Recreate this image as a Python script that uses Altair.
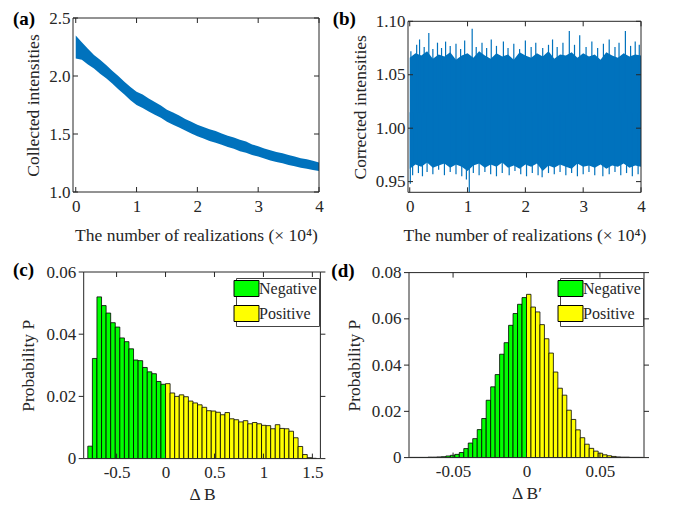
import altair as alt
import pandas as pd

FONT = "Liberation Serif"
TXT = "#262626"
BLUE = "#0072BD"
GREEN = "#00FF00"
YELLOW = "#FFFF00"

# ---------------- (a) collected intensities (envelope of the noisy trace, x in 1e4) ----
a_pos = [0.0, 0.1, 0.2, 0.3, 0.4, 0.5, 0.6, 0.7, 0.8, 0.9, 1.0, 1.1, 1.2, 1.3, 1.4,
         1.5, 1.6, 1.7, 1.8, 1.9, 2.0, 2.1, 2.2, 2.3, 2.4, 2.5, 2.6, 2.7, 2.8, 2.9,
         3.0, 3.1, 3.2, 3.3, 3.4, 3.5, 3.6, 3.7, 3.8, 3.9, 4.0]
a_hi = [2.35, 2.29, 2.235, 2.18, 2.14, 2.095, 2.045, 2.00, 1.95, 1.905, 1.865, 1.84,
        1.805, 1.775, 1.745, 1.71, 1.685, 1.66, 1.63, 1.605, 1.58, 1.56, 1.54, 1.525,
        1.505, 1.485, 1.47, 1.45, 1.435, 1.41, 1.395, 1.375, 1.36, 1.345, 1.335, 1.32,
        1.305, 1.292, 1.282, 1.27, 1.255]
a_lo = [2.15, 2.14, 2.10, 2.065, 2.02, 1.98, 1.935, 1.885, 1.84, 1.79, 1.75, 1.725,
        1.695, 1.665, 1.64, 1.605, 1.58, 1.555, 1.53, 1.505, 1.48, 1.462, 1.44, 1.425,
        1.408, 1.388, 1.372, 1.352, 1.338, 1.32, 1.305, 1.288, 1.272, 1.258, 1.248,
        1.233, 1.222, 1.21, 1.2, 1.19, 1.18]

# ---------------- (b) corrected intensities ----------------
b_pos = a_pos
b_hi = [1.066, 1.070, 1.068, 1.072, 1.065, 1.069, 1.067, 1.071, 1.064, 1.068, 1.070,
        1.066, 1.072, 1.068, 1.065, 1.070, 1.067, 1.069, 1.064, 1.071, 1.068, 1.066,
        1.070, 1.067, 1.072, 1.065, 1.069, 1.068, 1.071, 1.066, 1.070, 1.067, 1.069,
        1.064, 1.071, 1.068, 1.066, 1.070, 1.067, 1.069, 1.068]
b_lo = [0.962, 0.966, 0.964, 0.968, 0.963, 0.965, 0.967, 0.963, 0.966, 0.964, 0.960,
        0.965, 0.967, 0.963, 0.966, 0.964, 0.968, 0.963, 0.965, 0.962, 0.966, 0.964,
        0.967, 0.960, 0.965, 0.963, 0.966, 0.964, 0.962, 0.967, 0.964, 0.965, 0.963,
        0.966, 0.962, 0.965, 0.964, 0.967, 0.963, 0.965, 0.964]
b_up_x = [0.02, 0.12, 0.17, 0.25, 0.33, 0.40, 0.48, 0.55, 0.62, 0.70, 0.80, 0.88, 0.95,
          1.08, 1.15, 1.25, 1.33, 1.41, 1.50, 1.62, 1.70, 1.80, 1.90, 2.00, 2.10, 2.18,
          2.30, 2.40, 2.47, 2.55, 2.65, 2.76, 2.85, 2.94, 3.05, 3.15, 3.25, 3.35, 3.45,
          3.55, 3.62, 3.73, 3.82, 3.90, 3.97]
b_up_y = [1.072, 1.078, 1.083, 1.076, 1.089, 1.074, 1.080, 1.075, 1.081, 1.077, 1.079,
          1.074, 1.082, 1.093, 1.076, 1.080, 1.075, 1.083, 1.077, 1.081, 1.075, 1.079,
          1.074, 1.082, 1.076, 1.080, 1.075, 1.078, 1.083, 1.076, 1.080, 1.091, 1.078,
          1.087, 1.076, 1.081, 1.075, 1.079, 1.083, 1.076, 1.080, 1.091, 1.077, 1.081,
          1.078]
b_dn_x = [0.01, 0.05, 0.15, 0.22, 0.30, 0.40, 0.50, 0.60, 0.70, 0.80, 0.90, 0.98, 1.03,
          1.10, 1.20, 1.30, 1.40, 1.50, 1.60, 1.72, 1.82, 1.92, 2.02, 2.12, 2.22, 2.29,
          2.40, 2.50, 2.60, 2.70, 2.80, 2.90, 3.00, 3.10, 3.20, 3.34, 3.45, 3.55, 3.65,
          3.75, 3.85, 3.95]
b_dn_y = [0.948, 0.956, 0.958, 0.955, 0.959, 0.957, 0.961, 0.956, 0.959, 0.957, 0.955,
          0.952, 0.940, 0.958, 0.956, 0.959, 0.957, 0.955, 0.958, 0.956, 0.960, 0.957,
          0.955, 0.958, 0.956, 0.954, 0.958, 0.957, 0.959, 0.956, 0.958, 0.955, 0.957,
          0.959, 0.956, 0.955, 0.957, 0.959, 0.956, 0.958, 0.955, 0.957]

# ---------------- (c) histogram of Delta B ----------------
c_width = 0.0467
c_neg = [0.0040, 0.0322, 0.0520, 0.0492, 0.0468, 0.0437, 0.0423, 0.0388, 0.0376,
         0.0353, 0.0317, 0.0315, 0.0293, 0.0279, 0.0273, 0.0248, 0.0239]
c_pos = [0.0241, 0.0211, 0.0200, 0.0205, 0.0199, 0.0185, 0.0179, 0.0173, 0.0165,
         0.0154, 0.0153, 0.0149, 0.0141, 0.0148, 0.0128, 0.0125, 0.0118, 0.0122,
         0.0112, 0.0116, 0.0112, 0.0107, 0.0106, 0.0096, 0.0109, 0.0097, 0.0096,
         0.0088, 0.0067, 0.0039, 0.0013, 0.0003, 0.0001]

# ---------------- (d) histogram of Delta B' ----------------
d_width = 0.00305
d_neg = [0.0001, 0.0001, 0.0001, 0.0001, 0.0002, 0.0002, 0.0003, 0.0004, 0.0007,
         0.0010, 0.0014, 0.0022, 0.0039, 0.0063, 0.0082, 0.0121, 0.0169, 0.0248,
         0.0306, 0.0359, 0.0447, 0.0497, 0.0572, 0.0623, 0.0663, 0.0692]
d_pos = [0.0706, 0.0651, 0.0630, 0.0575, 0.0514, 0.0452, 0.0370, 0.0300, 0.0270,
         0.0205, 0.0165, 0.0120, 0.0086, 0.0058, 0.0040, 0.0028, 0.0019, 0.0012,
         0.0008, 0.0005, 0.0003, 0.0002, 0.0002, 0.0001, 0.0001, 0.0001]

x_ticks_ab = [0, 1, 2, 3, 4]
y_ticks_a = [1.0, 1.5, 2.0, 2.5]
y_ticks_b = [0.95, 1.00, 1.05, 1.10]
x_ticks_c = [-0.5, 0, 0.5, 1, 1.5]
y_ticks_c = [0, 0.02, 0.04, 0.06]
x_ticks_d = [-0.05, 0, 0.05]
y_ticks_d = [0, 0.02, 0.04, 0.06, 0.08]

XTITLE = "The number of realizations (× 10⁴)"
LAB_PLAIN = "'' + datum.value"
LAB_ZERO2 = "datum.value == 0 ? '0' : format(datum.value, '.2f')"


class Frame:
    """Plot rectangle inside a panel group: offset (xo, yo), size (w, h)."""

    def __init__(self, xdom, ydom, xo, yo, w, h):
        self.xdom, self.ydom = xdom, ydom
        self.xo, self.yo, self.w, self.h = xo, yo, w, h
        self.xs = alt.Scale(domain=xdom, range=[xo, xo + w], nice=False, zero=False)
        self.ys = alt.Scale(domain=ydom, range=[yo + h, yo], nice=False, zero=False)

    def layers(self, xt, yt, xax, yax, L=5):
        xo, yo, w, h = self.xo, self.yo, self.w, self.h
        rule = dict(color=TXT, strokeWidth=1)
        x0, x1 = self.xdom
        y0, y1 = self.ydom
        box = pd.DataFrame({"xa": [x0, x1, x0, x0], "xb": [x0, x1, x1, x1],
                            "ya": [y0, y0, y0, y1], "yb": [y1, y1, y0, y1]})
        edges = alt.Chart(box).mark_rule(**rule).encode(
            x=alt.X("xa:Q", scale=self.xs, axis=xax), x2="xb:Q",
            y=alt.Y("ya:Q", scale=self.ys, axis=yax), y2="yb:Q")
        xs_df = pd.DataFrame({"v": xt})
        ys_df = pd.DataFrame({"v": yt})
        bottom = alt.Chart(xs_df).mark_rule(**rule).encode(
            x=alt.X("v:Q", scale=self.xs, axis=xax),
            y=alt.value(yo + h), y2=alt.value(yo + h - L))
        top = alt.Chart(xs_df).mark_rule(**rule).encode(
            x=alt.X("v:Q", scale=self.xs, axis=xax),
            y=alt.value(yo), y2=alt.value(yo + L))
        left = alt.Chart(ys_df).mark_rule(**rule).encode(
            y=alt.Y("v:Q", scale=self.ys, axis=yax),
            x=alt.value(xo), x2=alt.value(xo + L))
        right = alt.Chart(ys_df).mark_rule(**rule).encode(
            y=alt.Y("v:Q", scale=self.ys, axis=yax),
            x=alt.value(xo + w - L), x2=alt.value(xo + w))
        return [edges, bottom, top, left, right]

    def size(self):
        return dict(width=self.xo + self.w, height=self.yo + self.h)


def panel_label(txt, dx, dy):
    return alt.Chart(pd.DataFrame({"t": [txt]})).mark_text(
        font=FONT, fontSize=19, fontWeight="bold", align="left", baseline="middle",
        color="black").encode(x=alt.value(dx), y=alt.value(dy), text="t:N")


# ---- panel (a)
fa = Frame([-0.045, 4], [1.0, 2.5], 0, 0, 246, 174)
xaxa = alt.Axis(values=x_ticks_ab, labelExpr=LAB_PLAIN, title=XTITLE,
                labelPadding=6, titlePadding=12)
yaxa = alt.Axis(values=y_ticks_a, format=".1f", title="Collected intensities",
                labelPadding=3, titlePadding=6)
dfa = pd.DataFrame({"x": a_pos, "lo": a_lo, "hi": a_hi})
area_a = alt.Chart(dfa).mark_area(color=BLUE, opacity=1).encode(
    x=alt.X("x:Q", scale=fa.xs, axis=xaxa),
    y=alt.Y("lo:Q", scale=fa.ys, axis=yaxa),
    y2="hi:Q")
pa = alt.layer(area_a, *fa.layers(x_ticks_ab, y_ticks_a, xaxa, yaxa),
               panel_label("(a)", -60, 1)).properties(**fa.size())

# ---- panel (b)
fb = Frame([-0.03, 4], [0.94, 1.10], 0, 3.3, 233, 171)
xaxb = alt.Axis(values=x_ticks_ab, labelExpr=LAB_PLAIN, title=XTITLE,
                labelPadding=6, titlePadding=12)
yaxb = alt.Axis(values=y_ticks_b, format=".2f", title="Corrected intensities",
                labelPadding=3, titlePadding=6)
dfb = pd.DataFrame({"x": b_pos, "lo": b_lo, "hi": b_hi})
area_b = alt.Chart(dfb).mark_area(color=BLUE, opacity=1).encode(
    x=alt.X("x:Q", scale=fb.xs, axis=xaxb),
    y=alt.Y("lo:Q", scale=fb.ys, axis=yaxb),
    y2="hi:Q")
spk = pd.DataFrame({"x": b_up_x + b_dn_x, "y": b_up_y + b_dn_y})
spikes_b = alt.Chart(spk).mark_rule(color=BLUE, strokeWidth=1.2).encode(
    x=alt.X("x:Q", scale=fb.xs, axis=xaxb),
    y=alt.Y("y:Q", scale=fb.ys, axis=yaxb),
    y2=alt.datum(1.015))
pb = alt.layer(area_b, spikes_b, *fb.layers(x_ticks_ab, y_ticks_b, xaxb, yaxb),
               panel_label("(b)", -75.3, 1.3)).properties(**fb.size())

# ---- histograms
LEG = alt.Legend(title=None, orient="top-right", offset=6,
                 symbolType="M-1.56,-1L1.56,-1L1.56,1L-1.56,1Z", symbolSize=256,
                 symbolStrokeColor="black", symbolStrokeWidth=1, symbolOpacity=1,
                 labelFont=FONT, labelFontSize=16, labelColor=TXT,
                 strokeColor="#444444", fillColor="white", padding=2,
                 rowPadding=4, labelOffset=4, cornerRadius=0)
CSCALE = alt.Scale(domain=["Negative", "Positive"], range=[GREEN, YELLOW])


def hist_df(neg, pos, w):
    n = len(neg)
    rows = []
    for i, v in enumerate(neg):
        rows.append({"x0": (i - n) * w, "x1": (i - n + 1) * w, "p": v, "s": "Negative"})
    for i, v in enumerate(pos):
        rows.append({"x0": i * w, "x1": (i + 1) * w, "p": v, "s": "Positive"})
    return pd.DataFrame(rows)


def hist_panel(neg, pos, w, fr, xt, yt, xtitle, lab, ldx, ldy):
    xax = alt.Axis(values=xt, labelExpr=LAB_PLAIN, title=xtitle,
                   labelPadding=6, titlePadding=5)
    yax = alt.Axis(values=yt, labelExpr=LAB_ZERO2, title="Probability P",
                   labelPadding=3, titlePadding=8, offset=-fr.xo)
    bars = alt.Chart(hist_df(neg, pos, w)).mark_bar(
        stroke="black", strokeWidth=0.8, opacity=1, clip=True,
        orient="vertical").encode(
        x=alt.X("x0:Q", scale=fr.xs, axis=xax),
        x2="x1:Q",
        y=alt.Y("p:Q", scale=fr.ys, axis=yax),
        y2=alt.datum(0),
        color=alt.Color("s:N", scale=CSCALE, legend=LEG))
    return alt.layer(bars, *fr.layers(xt, yt, xax, yax),
                     panel_label(lab, ldx, ldy)).properties(**fr.size())


fc = Frame([-0.836, 1.582], [0, 0.06], 5.7, 0, 246.7, 186.6)
fd = Frame([-0.08, 0.08], [0, 0.08], 0, 0.6, 245, 185)
pc = hist_panel(c_neg, c_pos, c_width, fc, x_ticks_c, y_ticks_c, "Δ B", "(c)", -60, -2.5)
pd_ = hist_panel(d_neg, d_pos, d_width, fd, x_ticks_d, y_ticks_d, "Δ B′", "(d)",
                 -72.7, -1.2)

row1 = alt.concat(pa, pb, columns=2, align="none", spacing=8)
row2 = alt.concat(pc, pd_, columns=2, align="none", spacing=5).resolve_scale(
    color="independent").resolve_legend(color="independent")

chart = alt.concat(row1, row2, columns=1, align="none", spacing=16).resolve_scale(
    color="independent").properties(
    padding={"left": 5, "top": 1, "right": 5, "bottom": 0}
).configure_view(stroke=None).configure_axis(
    labelFont=FONT, labelFontSize=17, labelColor=TXT, titleFont=FONT, titleFontSize=17.5,
    titleFontWeight="normal", titleColor=TXT, ticks=False, domain=False, grid=False,
    labelFlush=False, labelOverlap=False)

chart.save("out.html", embed_options={"renderer": "svg", "actions": False})
